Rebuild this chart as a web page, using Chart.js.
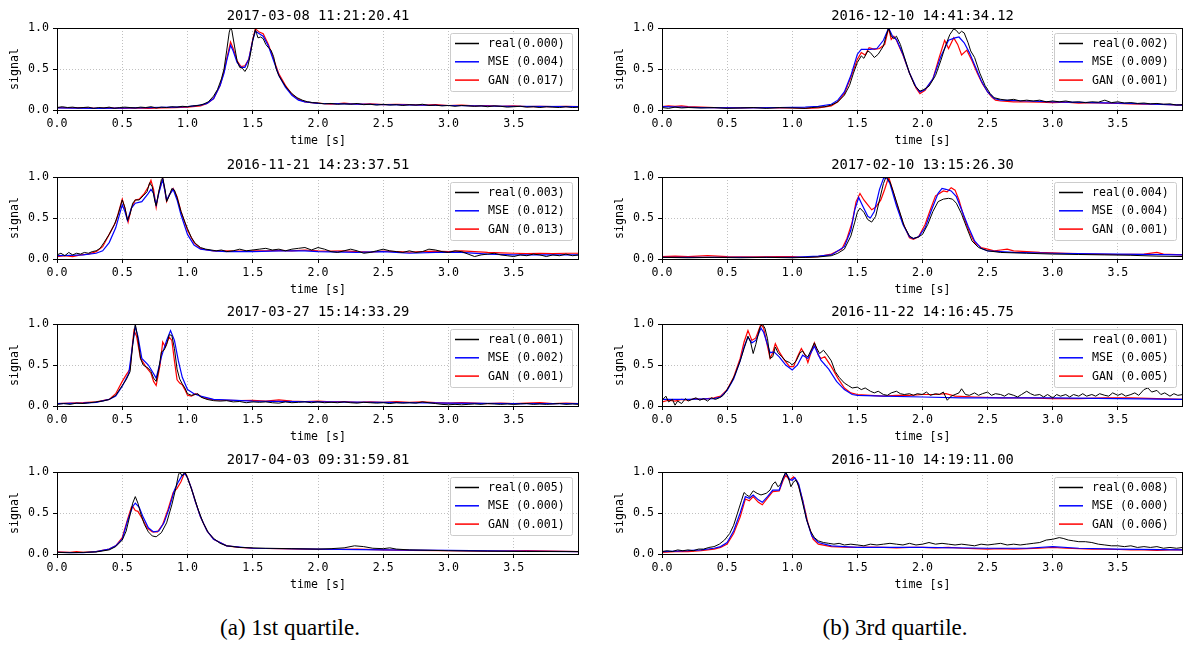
<!DOCTYPE html>
<html>
<head>
<meta charset="utf-8">
<script src="https://cdn.jsdelivr.net/npm/chart.js@4.4.1/dist/chart.umd.min.js"></script>
<style>
  body { margin: 0; background: #fff; }
  #page { position: relative; width: 1184px; height: 647px; overflow: hidden; }
  canvas { position: absolute; }
  .cap { position: absolute; top: 615px; font-family: "Liberation Serif", serif; font-size: 23px; color: #000; width: 400px; text-align: center; }
</style>
</head>
<body>
<div id="page">
  <canvas id="c1" width="590" height="150" style="left:0;top:0"></canvas>
  <canvas id="c2" width="590" height="150" style="left:0;top:149px"></canvas>
  <canvas id="c3" width="590" height="150" style="left:0;top:296px"></canvas>
  <canvas id="c4" width="590" height="150" style="left:0;top:444px"></canvas>
  <canvas id="c5" width="579" height="150" style="left:605px;top:0"></canvas>
  <canvas id="c6" width="579" height="150" style="left:605px;top:149px"></canvas>
  <canvas id="c7" width="579" height="150" style="left:605px;top:296px"></canvas>
  <canvas id="c8" width="579" height="150" style="left:605px;top:444px"></canvas>
  <div class="cap" style="left:90px">(a) 1st quartile.</div>
  <div class="cap" style="left:695px">(b) 3rd quartile.</div>
</div>
<script>
// ---------------------------- data ---------------------------------- //
// each series is a list of [time s, signal] pairs
const xTicks = [0, 0.5, 1.0, 1.5, 2.0, 2.5, 3.0, 3.5];
const yTicks = [0, 0.5, 1.0];

// 2017-03-08 11:21:20.41
const real1 = [[0,0.03],[0.04,0.04],[0.08,0.03],[0.12,0.035],[0.16,0.025],[0.2,0.03],[0.24,0.035],[0.28,0.02],[0.32,0.03],[0.36,0.025],[0.4,0.035],[0.44,0.02],[0.48,0.03],[0.52,0.035],[0.56,0.03],[0.6,0.025],[0.64,0.035],[0.68,0.03],[0.72,0.04],[0.76,0.025],[0.8,0.035],[0.84,0.03],[0.88,0.04],[0.92,0.035],[0.96,0.045],[1.0,0.04],[1.04,0.05],[1.08,0.055],[1.12,0.07],[1.16,0.1],[1.2,0.17],[1.23,0.25],[1.26,0.38],[1.28,0.5],[1.3,0.72],[1.32,0.95],[1.33,1.0],[1.34,0.97],[1.36,0.78],[1.38,0.6],[1.4,0.52],[1.42,0.51],[1.44,0.47],[1.46,0.52],[1.48,0.66],[1.5,0.85],[1.52,0.98],[1.53,0.93],[1.54,0.88],[1.56,0.89],[1.58,0.87],[1.6,0.8],[1.62,0.76],[1.64,0.73],[1.66,0.65],[1.68,0.5],[1.7,0.42],[1.73,0.34],[1.76,0.27],[1.8,0.2],[1.84,0.15],[1.88,0.12],[1.92,0.1],[1.96,0.09],[2.0,0.085],[2.05,0.075],[2.1,0.08],[2.15,0.07],[2.2,0.075],[2.25,0.07],[2.3,0.08],[2.35,0.065],[2.4,0.07],[2.45,0.06],[2.5,0.07],[2.55,0.06],[2.6,0.065],[2.65,0.055],[2.7,0.065],[2.75,0.06],[2.8,0.07],[2.85,0.055],[2.9,0.06],[2.95,0.05],[3.0,0.055],[3.05,0.045],[3.1,0.055],[3.15,0.05],[3.2,0.045],[3.25,0.05],[3.3,0.04],[3.35,0.05],[3.4,0.045],[3.45,0.035],[3.5,0.04],[3.55,0.045],[3.6,0.035],[3.65,0.04],[3.7,0.03],[3.75,0.04],[3.8,0.035],[3.85,0.03],[3.9,0.04],[3.95,0.03],[4.0,0.035]];
const mse1 = [[0,0.025],[0.3,0.02],[0.6,0.025],[0.9,0.035],[1.0,0.04],[1.1,0.06],[1.15,0.08],[1.2,0.14],[1.25,0.3],[1.28,0.45],[1.3,0.6],[1.33,0.79],[1.35,0.72],[1.38,0.58],[1.41,0.52],[1.44,0.52],[1.47,0.62],[1.5,0.85],[1.52,0.96],[1.55,0.93],[1.58,0.9],[1.62,0.78],[1.66,0.6],[1.7,0.42],[1.75,0.28],[1.8,0.18],[1.85,0.12],[1.9,0.1],[2.0,0.08],[2.5,0.065],[3.0,0.055],[3.5,0.045],[4.0,0.04]];
const gan1 = [[0,0.03],[0.1,0.025],[0.2,0.03],[0.3,0.02],[0.4,0.025],[0.5,0.02],[0.6,0.025],[0.7,0.02],[0.8,0.025],[0.9,0.03],[1.0,0.035],[1.1,0.05],[1.15,0.08],[1.2,0.14],[1.25,0.3],[1.28,0.47],[1.3,0.62],[1.33,0.83],[1.35,0.75],[1.38,0.6],[1.41,0.53],[1.44,0.54],[1.47,0.62],[1.5,0.86],[1.52,0.99],[1.55,0.95],[1.58,0.93],[1.62,0.8],[1.66,0.62],[1.7,0.44],[1.75,0.3],[1.8,0.19],[1.85,0.13],[1.9,0.1],[1.95,0.09],[2.0,0.085],[2.1,0.07],[2.2,0.085],[2.3,0.07],[2.4,0.075],[2.5,0.065],[2.6,0.07],[2.7,0.065],[2.8,0.06],[2.9,0.065],[3.0,0.055],[3.1,0.06],[3.2,0.05],[3.3,0.055],[3.4,0.045],[3.5,0.05],[3.6,0.04],[3.7,0.045],[3.8,0.04],[3.9,0.045],[4.0,0.04]];

// 2016-11-21 14:23:37.51
const real2 = [[0,0.05],[0.03,0.07],[0.06,0.04],[0.09,0.08],[0.12,0.05],[0.15,0.07],[0.18,0.06],[0.21,0.08],[0.24,0.07],[0.27,0.09],[0.3,0.1],[0.33,0.13],[0.36,0.2],[0.4,0.3],[0.44,0.42],[0.47,0.55],[0.5,0.72],[0.52,0.63],[0.54,0.47],[0.56,0.55],[0.58,0.68],[0.6,0.72],[0.63,0.72],[0.66,0.77],[0.69,0.82],[0.71,0.93],[0.73,0.88],[0.75,0.7],[0.76,0.65],[0.78,0.82],[0.8,0.97],[0.81,0.99],[0.83,0.83],[0.84,0.7],[0.86,0.77],[0.88,0.86],[0.9,0.84],[0.92,0.75],[0.95,0.58],[0.98,0.45],[1.0,0.37],[1.03,0.26],[1.06,0.19],[1.1,0.14],[1.14,0.12],[1.18,0.11],[1.22,0.1],[1.26,0.11],[1.3,0.09],[1.35,0.1],[1.4,0.12],[1.45,0.1],[1.5,0.11],[1.55,0.12],[1.6,0.13],[1.65,0.11],[1.7,0.12],[1.75,0.1],[1.8,0.12],[1.85,0.13],[1.9,0.14],[1.95,0.11],[2.0,0.14],[2.05,0.12],[2.1,0.09],[2.15,0.08],[2.2,0.1],[2.25,0.12],[2.3,0.1],[2.35,0.07],[2.4,0.08],[2.45,0.1],[2.5,0.12],[2.55,0.1],[2.6,0.09],[2.65,0.08],[2.7,0.1],[2.75,0.08],[2.8,0.09],[2.85,0.12],[2.9,0.11],[2.95,0.09],[3.0,0.08],[3.05,0.1],[3.1,0.09],[3.15,0.06],[3.2,0.03],[3.25,0.05],[3.3,0.06],[3.35,0.07],[3.4,0.05],[3.45,0.04],[3.5,0.03],[3.55,0.05],[3.6,0.04],[3.65,0.06],[3.7,0.05],[3.75,0.03],[3.8,0.05],[3.85,0.04],[3.9,0.06],[3.95,0.04],[4.0,0.05]];
const mse2 = [[0,0.04],[0.1,0.045],[0.2,0.05],[0.3,0.07],[0.35,0.1],[0.4,0.2],[0.45,0.38],[0.5,0.66],[0.52,0.58],[0.54,0.47],[0.57,0.62],[0.6,0.68],[0.65,0.7],[0.7,0.8],[0.72,0.85],[0.74,0.8],[0.76,0.66],[0.78,0.8],[0.81,0.97],[0.83,0.8],[0.84,0.72],[0.86,0.78],[0.89,0.85],[0.92,0.72],[0.95,0.54],[1.0,0.3],[1.05,0.17],[1.1,0.12],[1.2,0.1],[1.3,0.09],[1.5,0.09],[1.7,0.1],[1.9,0.1],[2.0,0.09],[2.3,0.08],[2.5,0.09],[2.7,0.07],[2.9,0.08],[3.1,0.08],[3.3,0.06],[3.5,0.05],[3.7,0.05],[4.0,0.05]];
const gan2 = [[0,0.03],[0.06,0.04],[0.12,0.03],[0.18,0.05],[0.24,0.06],[0.3,0.09],[0.35,0.15],[0.4,0.3],[0.45,0.45],[0.5,0.73],[0.52,0.62],[0.545,0.45],[0.57,0.62],[0.6,0.72],[0.63,0.73],[0.67,0.8],[0.7,0.88],[0.72,0.96],[0.74,0.85],[0.76,0.63],[0.78,0.82],[0.81,0.98],[0.83,0.8],[0.84,0.7],[0.86,0.78],[0.89,0.86],[0.92,0.76],[0.95,0.58],[1.0,0.35],[1.05,0.2],[1.1,0.13],[1.15,0.11],[1.2,0.1],[1.3,0.1],[1.4,0.095],[1.5,0.1],[1.6,0.1],[1.7,0.105],[1.8,0.1],[1.9,0.11],[2.0,0.1],[2.1,0.095],[2.2,0.1],[2.3,0.09],[2.4,0.085],[2.5,0.095],[2.6,0.09],[2.7,0.085],[2.8,0.09],[2.9,0.095],[3.0,0.09],[3.1,0.1],[3.2,0.09],[3.3,0.08],[3.4,0.075],[3.5,0.07],[3.6,0.065],[3.7,0.07],[3.8,0.065],[3.9,0.07],[4.0,0.07]];

// 2017-03-27 15:14:33.29
const real3 = [[0,0.02],[0.05,0.03],[0.1,0.02],[0.15,0.035],[0.2,0.03],[0.25,0.04],[0.3,0.05],[0.35,0.06],[0.4,0.08],[0.45,0.13],[0.5,0.25],[0.53,0.32],[0.56,0.42],[0.58,0.75],[0.6,1.0],[0.62,0.82],[0.64,0.58],[0.66,0.5],[0.7,0.46],[0.72,0.42],[0.74,0.34],[0.76,0.3],[0.78,0.45],[0.8,0.66],[0.82,0.68],[0.84,0.75],[0.86,0.87],[0.88,0.86],[0.9,0.7],[0.92,0.45],[0.94,0.33],[0.96,0.27],[0.98,0.22],[1.0,0.15],[1.03,0.13],[1.06,0.14],[1.08,0.15],[1.1,0.11],[1.15,0.08],[1.2,0.065],[1.25,0.06],[1.3,0.065],[1.35,0.05],[1.4,0.055],[1.45,0.04],[1.5,0.05],[1.55,0.045],[1.6,0.05],[1.65,0.04],[1.7,0.035],[1.75,0.05],[1.8,0.04],[1.85,0.045],[1.9,0.05],[1.95,0.04],[2.0,0.05],[2.05,0.04],[2.1,0.045],[2.15,0.04],[2.2,0.05],[2.25,0.04],[2.3,0.035],[2.35,0.045],[2.4,0.04],[2.45,0.035],[2.5,0.04],[2.55,0.03],[2.6,0.04],[2.65,0.035],[2.7,0.04],[2.75,0.035],[2.8,0.05],[2.85,0.04],[2.9,0.03],[2.95,0.02],[3.0,0.015],[3.05,0.02],[3.1,0.015],[3.15,0.02],[3.2,0.025],[3.25,0.02],[3.3,0.03],[3.35,0.025],[3.4,0.02],[3.45,0.025],[3.5,0.02],[3.55,0.025],[3.6,0.03],[3.65,0.02],[3.7,0.025],[3.75,0.02],[3.8,0.025],[3.85,0.03],[3.9,0.02],[3.95,0.025],[4.0,0.02]];
const mse3 = [[0,0.03],[0.2,0.035],[0.3,0.045],[0.4,0.08],[0.45,0.12],[0.5,0.24],[0.55,0.4],[0.58,0.75],[0.6,0.97],[0.62,0.85],[0.65,0.58],[0.7,0.5],[0.73,0.42],[0.76,0.34],[0.8,0.6],[0.84,0.8],[0.87,0.92],[0.9,0.8],[0.93,0.55],[0.96,0.35],[1.0,0.2],[1.05,0.15],[1.1,0.12],[1.2,0.08],[1.5,0.06],[2.0,0.05],[2.5,0.045],[3.0,0.035],[3.5,0.03],[4.0,0.03]];
const gan3 = [[0,0.03],[0.1,0.035],[0.2,0.04],[0.3,0.05],[0.4,0.08],[0.45,0.15],[0.5,0.3],[0.53,0.38],[0.56,0.45],[0.58,0.78],[0.59,0.92],[0.61,0.85],[0.64,0.58],[0.68,0.48],[0.72,0.4],[0.74,0.3],[0.76,0.25],[0.79,0.5],[0.81,0.78],[0.83,0.72],[0.86,0.84],[0.88,0.8],[0.9,0.55],[0.92,0.32],[0.94,0.28],[0.96,0.26],[0.98,0.2],[1.0,0.13],[1.03,0.12],[1.06,0.15],[1.08,0.14],[1.12,0.1],[1.2,0.075],[1.3,0.07],[1.4,0.065],[1.5,0.07],[1.6,0.06],[1.7,0.075],[1.8,0.06],[1.9,0.055],[2.0,0.06],[2.1,0.05],[2.2,0.055],[2.3,0.045],[2.4,0.05],[2.5,0.045],[2.6,0.055],[2.7,0.045],[2.8,0.05],[2.9,0.04],[3.0,0.035],[3.1,0.04],[3.2,0.035],[3.3,0.03],[3.4,0.035],[3.5,0.03],[3.6,0.035],[3.7,0.04],[3.8,0.03],[3.9,0.035],[4.0,0.03]];

// 2017-04-03 09:31:59.81
const real4 = [[0,0.02],[0.1,0.015],[0.2,0.02],[0.3,0.025],[0.4,0.05],[0.45,0.09],[0.5,0.17],[0.53,0.28],[0.56,0.48],[0.58,0.62],[0.6,0.7],[0.62,0.62],[0.64,0.5],[0.67,0.36],[0.7,0.27],[0.73,0.22],[0.76,0.21],[0.8,0.26],[0.84,0.38],[0.88,0.6],[0.91,0.8],[0.93,0.96],[0.94,1.0],[0.96,0.95],[0.98,1.0],[1.0,0.93],[1.02,0.84],[1.05,0.7],[1.08,0.55],[1.12,0.38],[1.16,0.26],[1.2,0.19],[1.25,0.13],[1.3,0.1],[1.4,0.08],[1.5,0.075],[1.6,0.07],[1.8,0.065],[2.0,0.06],[2.1,0.065],[2.2,0.075],[2.28,0.1],[2.35,0.09],[2.42,0.07],[2.5,0.065],[2.55,0.075],[2.6,0.06],[2.7,0.05],[3.0,0.04],[3.3,0.035],[3.6,0.03],[4.0,0.03]];
const mse4 = [[0,0.02],[0.2,0.015],[0.3,0.03],[0.4,0.06],[0.45,0.1],[0.5,0.18],[0.54,0.4],[0.58,0.58],[0.6,0.62],[0.63,0.57],[0.66,0.45],[0.7,0.32],[0.74,0.27],[0.78,0.28],[0.82,0.38],[0.86,0.56],[0.9,0.78],[0.93,0.88],[0.96,0.96],[0.98,0.98],[1.0,0.93],[1.03,0.8],[1.06,0.64],[1.1,0.45],[1.15,0.28],[1.2,0.18],[1.3,0.1],[1.5,0.07],[2.0,0.06],[2.5,0.05],[3.0,0.045],[3.5,0.035],[4.0,0.03]];
const gan4 = [[0,0.025],[0.1,0.02],[0.15,0.03],[0.2,0.02],[0.3,0.03],[0.4,0.06],[0.45,0.1],[0.5,0.2],[0.54,0.42],[0.57,0.57],[0.58,0.58],[0.6,0.53],[0.62,0.52],[0.65,0.44],[0.69,0.32],[0.73,0.27],[0.77,0.27],[0.81,0.36],[0.85,0.54],[0.89,0.75],[0.92,0.8],[0.95,0.88],[0.98,1.0],[1.0,0.93],[1.03,0.8],[1.06,0.64],[1.1,0.45],[1.15,0.28],[1.2,0.18],[1.3,0.1],[1.4,0.08],[1.5,0.07],[1.7,0.065],[1.9,0.06],[2.1,0.055],[2.3,0.06],[2.5,0.05],[2.7,0.045],[3.0,0.04],[3.3,0.035],[3.6,0.04],[4.0,0.03]];

// 2016-12-10 14:41:34.12
const real5 = [[0,0.03],[0.05,0.02],[0.1,0.035],[0.15,0.025],[0.2,0.03],[0.3,0.025],[0.4,0.03],[0.5,0.02],[0.6,0.025],[0.7,0.03],[0.8,0.02],[0.9,0.03],[1.0,0.025],[1.1,0.02],[1.15,0.03],[1.2,0.035],[1.25,0.04],[1.3,0.06],[1.35,0.1],[1.4,0.18],[1.44,0.3],[1.47,0.45],[1.5,0.58],[1.53,0.66],[1.55,0.63],[1.58,0.72],[1.6,0.7],[1.63,0.64],[1.66,0.68],[1.7,0.78],[1.72,0.9],[1.74,1.0],[1.76,0.9],[1.78,0.87],[1.8,0.9],[1.83,0.8],[1.86,0.65],[1.9,0.45],[1.94,0.3],[1.98,0.23],[2.01,0.25],[2.05,0.29],[2.1,0.42],[2.14,0.6],[2.18,0.8],[2.21,0.92],[2.24,0.99],[2.26,0.97],[2.28,0.93],[2.3,0.96],[2.32,0.94],[2.35,0.82],[2.37,0.72],[2.4,0.64],[2.44,0.45],[2.48,0.3],[2.52,0.2],[2.55,0.15],[2.6,0.13],[2.65,0.12],[2.7,0.13],[2.75,0.11],[2.8,0.12],[2.85,0.11],[2.9,0.12],[2.95,0.1],[3.0,0.11],[3.05,0.1],[3.1,0.11],[3.15,0.095],[3.2,0.1],[3.25,0.09],[3.3,0.1],[3.35,0.095],[3.4,0.12],[3.45,0.09],[3.5,0.1],[3.55,0.085],[3.6,0.09],[3.65,0.08],[3.7,0.085],[3.75,0.075],[3.8,0.08],[3.85,0.07],[3.9,0.075],[3.95,0.06],[4.0,0.065]];
const mse5 = [[0,0.04],[0.3,0.03],[0.6,0.025],[0.9,0.03],[1.1,0.035],[1.2,0.045],[1.3,0.07],[1.35,0.12],[1.4,0.22],[1.45,0.42],[1.5,0.68],[1.53,0.74],[1.6,0.74],[1.65,0.75],[1.7,0.85],[1.74,1.0],[1.77,0.9],[1.8,0.86],[1.85,0.68],[1.9,0.45],[1.95,0.28],[1.98,0.22],[2.02,0.25],[2.08,0.38],[2.14,0.65],[2.2,0.85],[2.25,0.88],[2.28,0.89],[2.32,0.82],[2.36,0.7],[2.4,0.55],[2.45,0.36],[2.5,0.22],[2.55,0.14],[2.6,0.12],[2.8,0.11],[3.0,0.1],[3.3,0.09],[3.6,0.08],[4.0,0.06]];
const gan5 = [[0,0.04],[0.05,0.05],[0.1,0.045],[0.15,0.05],[0.2,0.04],[0.3,0.035],[0.4,0.03],[0.5,0.03],[0.6,0.025],[0.7,0.03],[0.8,0.03],[0.9,0.025],[1.0,0.025],[1.1,0.02],[1.2,0.025],[1.3,0.05],[1.35,0.1],[1.4,0.2],[1.45,0.4],[1.5,0.62],[1.53,0.7],[1.56,0.67],[1.59,0.76],[1.63,0.74],[1.67,0.75],[1.71,0.8],[1.74,1.0],[1.76,0.86],[1.78,0.9],[1.8,0.85],[1.85,0.67],[1.9,0.45],[1.95,0.27],[1.98,0.2],[2.02,0.24],[2.08,0.38],[2.13,0.65],[2.17,0.85],[2.2,0.75],[2.24,0.88],[2.27,0.8],[2.3,0.67],[2.34,0.73],[2.38,0.6],[2.42,0.45],[2.46,0.32],[2.5,0.22],[2.53,0.16],[2.56,0.12],[2.6,0.11],[2.7,0.1],[2.8,0.1],[2.9,0.095],[3.0,0.09],[3.1,0.095],[3.2,0.085],[3.3,0.09],[3.4,0.085],[3.5,0.08],[3.6,0.075],[3.7,0.07],[3.8,0.07],[3.9,0.065],[4.0,0.06]];

// 2017-02-10 13:15:26.30
const real6 = [[0,0.02],[0.2,0.015],[0.4,0.02],[0.6,0.015],[0.8,0.02],[1.0,0.015],[1.1,0.02],[1.2,0.025],[1.3,0.04],[1.35,0.07],[1.4,0.12],[1.45,0.28],[1.48,0.45],[1.5,0.57],[1.52,0.62],[1.55,0.57],[1.58,0.48],[1.61,0.45],[1.64,0.52],[1.67,0.72],[1.7,0.92],[1.72,1.0],[1.75,0.94],[1.78,0.8],[1.82,0.6],[1.86,0.4],[1.9,0.28],[1.93,0.25],[1.97,0.27],[2.0,0.3],[2.04,0.42],[2.08,0.58],[2.12,0.7],[2.16,0.73],[2.2,0.74],[2.23,0.73],[2.26,0.68],[2.3,0.55],[2.34,0.38],[2.38,0.22],[2.43,0.14],[2.5,0.1],[2.6,0.08],[2.8,0.07],[3.0,0.06],[3.2,0.055],[3.4,0.05],[3.6,0.045],[3.8,0.035],[4.0,0.03]];
const mse6 = [[0,0.02],[0.5,0.02],[1.0,0.02],[1.2,0.035],[1.3,0.05],[1.4,0.15],[1.45,0.35],[1.48,0.6],[1.51,0.75],[1.54,0.65],[1.58,0.52],[1.6,0.5],[1.63,0.58],[1.67,0.85],[1.7,0.98],[1.72,1.0],[1.75,0.92],[1.8,0.65],[1.85,0.42],[1.9,0.27],[1.93,0.25],[1.97,0.27],[2.02,0.38],[2.07,0.6],[2.12,0.8],[2.15,0.86],[2.18,0.85],[2.22,0.83],[2.26,0.76],[2.3,0.6],[2.35,0.4],[2.4,0.22],[2.45,0.13],[2.5,0.1],[2.7,0.08],[3.0,0.07],[3.5,0.06],[4.0,0.05]];
const gan6 = [[0,0.03],[0.1,0.035],[0.2,0.03],[0.35,0.04],[0.5,0.03],[0.7,0.025],[0.9,0.03],[1.0,0.03],[1.1,0.02],[1.2,0.03],[1.3,0.06],[1.38,0.12],[1.42,0.25],[1.46,0.45],[1.49,0.7],[1.52,0.8],[1.55,0.72],[1.58,0.66],[1.61,0.6],[1.64,0.63],[1.68,0.72],[1.71,0.85],[1.74,1.0],[1.77,0.85],[1.8,0.68],[1.85,0.44],[1.9,0.26],[1.93,0.24],[1.97,0.27],[2.02,0.42],[2.06,0.6],[2.1,0.77],[2.13,0.8],[2.16,0.83],[2.19,0.82],[2.22,0.87],[2.25,0.84],[2.28,0.72],[2.32,0.5],[2.36,0.33],[2.4,0.2],[2.45,0.14],[2.5,0.12],[2.55,0.1],[2.6,0.11],[2.65,0.12],[2.7,0.1],[2.8,0.09],[2.9,0.08],[3.0,0.075],[3.1,0.07],[3.2,0.065],[3.3,0.06],[3.5,0.055],[3.7,0.06],[3.8,0.08],[3.85,0.06],[4.0,0.05]];

// 2016-11-22 14:16:45.75
const real7 = [[0,0.07],[0.03,0.12],[0.05,0.05],[0.08,0.08],[0.1,0.01],[0.12,0.06],[0.15,0.03],[0.18,0.09],[0.2,0.06],[0.23,0.08],[0.26,0.1],[0.29,0.07],[0.32,0.09],[0.35,0.06],[0.38,0.1],[0.41,0.08],[0.44,0.1],[0.47,0.13],[0.5,0.2],[0.53,0.28],[0.56,0.38],[0.6,0.55],[0.63,0.7],[0.66,0.85],[0.68,0.78],[0.7,0.64],[0.72,0.75],[0.75,0.95],[0.77,1.0],[0.79,0.95],[0.81,0.82],[0.83,0.58],[0.85,0.6],[0.87,0.72],[0.89,0.65],[0.92,0.6],[0.95,0.55],[0.98,0.53],[1.0,0.5],[1.03,0.55],[1.06,0.65],[1.08,0.67],[1.1,0.62],[1.12,0.6],[1.15,0.7],[1.17,0.77],[1.19,0.7],[1.21,0.64],[1.24,0.68],[1.27,0.62],[1.3,0.55],[1.33,0.42],[1.36,0.35],[1.4,0.28],[1.43,0.25],[1.46,0.22],[1.5,0.23],[1.53,0.2],[1.56,0.22],[1.6,0.18],[1.63,0.16],[1.66,0.18],[1.7,0.14],[1.73,0.13],[1.76,0.16],[1.8,0.18],[1.83,0.15],[1.86,0.14],[1.9,0.15],[1.93,0.13],[1.96,0.15],[2.0,0.14],[2.03,0.17],[2.06,0.13],[2.1,0.15],[2.13,0.14],[2.16,0.17],[2.19,0.07],[2.22,0.12],[2.25,0.14],[2.28,0.16],[2.3,0.21],[2.33,0.14],[2.36,0.13],[2.4,0.16],[2.43,0.13],[2.46,0.15],[2.5,0.17],[2.53,0.13],[2.56,0.15],[2.6,0.14],[2.63,0.12],[2.66,0.15],[2.7,0.13],[2.73,0.11],[2.76,0.14],[2.8,0.18],[2.83,0.15],[2.86,0.13],[2.9,0.14],[2.93,0.11],[2.96,0.14],[3.0,0.1],[3.03,0.14],[3.06,0.12],[3.1,0.14],[3.13,0.11],[3.16,0.14],[3.2,0.12],[3.23,0.15],[3.26,0.12],[3.3,0.14],[3.33,0.12],[3.36,0.15],[3.4,0.13],[3.43,0.12],[3.46,0.16],[3.5,0.13],[3.53,0.15],[3.56,0.12],[3.6,0.14],[3.63,0.16],[3.66,0.13],[3.7,0.2],[3.73,0.22],[3.76,0.17],[3.8,0.19],[3.83,0.14],[3.86,0.16],[3.9,0.12],[3.93,0.15],[3.96,0.13],[4.0,0.14]];
const mse7 = [[0,0.08],[0.2,0.08],[0.4,0.09],[0.45,0.11],[0.5,0.19],[0.55,0.33],[0.6,0.55],[0.63,0.72],[0.66,0.84],[0.69,0.77],[0.72,0.8],[0.76,0.95],[0.78,0.9],[0.81,0.75],[0.83,0.65],[0.86,0.66],[0.9,0.6],[0.95,0.5],[1.0,0.44],[1.04,0.5],[1.08,0.62],[1.12,0.58],[1.17,0.73],[1.22,0.56],[1.28,0.45],[1.34,0.3],[1.4,0.2],[1.46,0.14],[1.5,0.13],[1.7,0.12],[2.0,0.11],[2.3,0.1],[2.6,0.1],[3.0,0.1],[3.5,0.09],[4.0,0.08]];
const gan7 = [[0,0.05],[0.05,0.07],[0.1,0.06],[0.15,0.08],[0.2,0.07],[0.25,0.09],[0.3,0.08],[0.35,0.09],[0.4,0.1],[0.45,0.12],[0.5,0.2],[0.55,0.35],[0.6,0.58],[0.63,0.78],[0.66,0.92],[0.69,0.8],[0.72,0.83],[0.76,1.0],[0.78,0.95],[0.8,0.8],[0.83,0.58],[0.85,0.65],[0.87,0.76],[0.9,0.66],[0.94,0.56],[0.98,0.48],[1.01,0.48],[1.04,0.6],[1.07,0.7],[1.1,0.62],[1.12,0.53],[1.15,0.68],[1.17,0.77],[1.2,0.62],[1.22,0.58],[1.25,0.6],[1.3,0.48],[1.35,0.34],[1.4,0.22],[1.45,0.16],[1.5,0.14],[1.6,0.13],[1.7,0.12],[1.8,0.13],[1.9,0.13],[2.0,0.14],[2.1,0.14],[2.18,0.15],[2.25,0.12],[2.4,0.11],[2.6,0.1],[2.8,0.1],[3.0,0.09],[3.2,0.09],[3.4,0.1],[3.6,0.1],[3.8,0.09],[4.0,0.08]];

// 2016-11-10 14:19:11.00
const real8 = [[0,0.03],[0.04,0.04],[0.08,0.03],[0.12,0.05],[0.16,0.04],[0.2,0.05],[0.24,0.04],[0.28,0.06],[0.32,0.06],[0.36,0.08],[0.4,0.09],[0.44,0.12],[0.48,0.17],[0.52,0.25],[0.55,0.35],[0.58,0.5],[0.61,0.65],[0.63,0.75],[0.65,0.72],[0.67,0.7],[0.7,0.77],[0.73,0.74],[0.76,0.72],[0.8,0.74],[0.83,0.78],[0.85,0.85],[0.87,0.88],[0.89,0.82],[0.91,0.85],[0.93,0.93],[0.95,1.0],[0.97,0.93],[0.99,0.82],[1.01,0.88],[1.03,0.9],[1.05,0.82],[1.08,0.62],[1.11,0.42],[1.14,0.28],[1.17,0.2],[1.2,0.16],[1.24,0.14],[1.28,0.13],[1.32,0.12],[1.36,0.13],[1.4,0.11],[1.45,0.12],[1.5,0.11],[1.55,0.1],[1.6,0.12],[1.65,0.11],[1.7,0.12],[1.75,0.13],[1.8,0.12],[1.85,0.11],[1.9,0.13],[1.95,0.11],[2.0,0.12],[2.05,0.14],[2.1,0.12],[2.15,0.13],[2.2,0.12],[2.25,0.11],[2.3,0.12],[2.35,0.11],[2.4,0.1],[2.45,0.12],[2.5,0.11],[2.55,0.12],[2.6,0.13],[2.65,0.11],[2.7,0.12],[2.75,0.11],[2.8,0.12],[2.85,0.13],[2.9,0.14],[2.95,0.17],[3.0,0.18],[3.05,0.2],[3.08,0.19],[3.12,0.17],[3.16,0.16],[3.2,0.15],[3.25,0.15],[3.3,0.14],[3.35,0.12],[3.4,0.11],[3.45,0.1],[3.5,0.1],[3.55,0.09],[3.6,0.1],[3.65,0.08],[3.7,0.09],[3.75,0.08],[3.8,0.09],[3.85,0.07],[3.9,0.08],[3.95,0.07],[4.0,0.08]];
const mse8 = [[0,0.03],[0.2,0.04],[0.3,0.05],[0.4,0.07],[0.45,0.09],[0.5,0.14],[0.55,0.28],[0.6,0.5],[0.64,0.7],[0.67,0.68],[0.7,0.72],[0.74,0.66],[0.77,0.63],[0.81,0.7],[0.85,0.78],[0.9,0.78],[0.93,0.92],[0.95,0.99],[0.98,0.91],[1.0,0.9],[1.02,0.93],[1.05,0.85],[1.08,0.65],[1.11,0.42],[1.15,0.22],[1.2,0.14],[1.3,0.1],[1.5,0.08],[2.0,0.08],[2.5,0.07],[2.8,0.07],[3.0,0.09],[3.2,0.07],[3.5,0.06],[4.0,0.05]];
const gan8 = [[0,0.02],[0.1,0.03],[0.2,0.03],[0.3,0.04],[0.4,0.06],[0.45,0.08],[0.5,0.12],[0.55,0.25],[0.6,0.45],[0.64,0.67],[0.67,0.65],[0.7,0.7],[0.74,0.63],[0.77,0.6],[0.81,0.68],[0.85,0.76],[0.9,0.77],[0.93,0.9],[0.95,0.96],[0.98,0.9],[1.01,0.94],[1.04,0.88],[1.08,0.66],[1.12,0.38],[1.16,0.18],[1.2,0.12],[1.3,0.09],[1.4,0.085],[1.5,0.08],[1.6,0.085],[1.7,0.08],[1.8,0.075],[1.9,0.08],[2.0,0.08],[2.1,0.075],[2.2,0.08],[2.3,0.07],[2.4,0.065],[2.5,0.06],[2.6,0.065],[2.7,0.06],[2.8,0.065],[2.9,0.07],[3.0,0.08],[3.1,0.07],[3.2,0.065],[3.3,0.06],[3.4,0.06],[3.5,0.055],[3.6,0.05],[3.7,0.05],[3.8,0.045],[3.9,0.05],[4.0,0.05]];

// legend scores: real, MSE, GAN
const scores = [
  ['0.000', '0.004', '0.017'],
  ['0.003', '0.012', '0.013'],
  ['0.001', '0.002', '0.001'],
  ['0.005', '0.000', '0.001'],
  ['0.002', '0.009', '0.001'],
  ['0.004', '0.004', '0.001'],
  ['0.001', '0.005', '0.005'],
  ['0.008', '0.000', '0.006']
];
const titles = [
  '2017-03-08 11:21:20.41', '2016-11-21 14:23:37.51', '2017-03-27 15:14:33.29', '2017-04-03 09:31:59.81',
  '2016-12-10 14:41:34.12', '2017-02-10 13:15:26.30', '2016-11-22 14:16:45.75', '2016-11-10 14:19:11.00'
];

// --------------------------- drawing --------------------------------- //
const MONO = '"DejaVu Sans Mono", monospace';
const pts = arr => arr.map(([x, y]) => ({x, y}));

// frame, title and in-axes legend, drawn after the lines
const panelDecor = {
  id: 'panelDecor',
  afterDraw(chart) {
    const {ctx, chartArea: a} = chart;
    const o = chart.options.plugins.panelDecor;
    ctx.save();
    ctx.strokeStyle = '#000';
    ctx.lineWidth = 1;
    ctx.strokeRect(a.left + 0.5, a.top + 0.5, a.right - a.left - 1, a.bottom - a.top);

    ctx.fillStyle = '#000';
    ctx.font = '13.8px ' + MONO;
    ctx.textAlign = 'center';
    ctx.textBaseline = 'middle';
    ctx.fillText(o.title, (a.left + a.right) / 2, a.top - 12);

    const bw = 122, bh = 58;
    const bx = a.right - 7 - bw, by = a.top + 5;
    ctx.beginPath();
    ctx.roundRect(bx + 0.5, by + 0.5, bw, bh, 2);
    ctx.fillStyle = 'rgba(255,255,255,0.8)';
    ctx.fill();
    ctx.strokeStyle = '#cccccc';
    ctx.stroke();

    ctx.font = '11.6px ' + MONO;
    ctx.textAlign = 'left';
    chart.data.datasets.forEach((ds, i) => {
      const y = by + 10.5 + i * 18.3;
      ctx.strokeStyle = ds.borderColor;
      ctx.lineWidth = 1.5;
      ctx.beginPath();
      ctx.moveTo(bx + 5, y);
      ctx.lineTo(bx + 29, y);
      ctx.stroke();
      ctx.fillStyle = '#000';
      ctx.fillText(ds.label, bx + 38, y + 0.5);
    });
    ctx.restore();
  }
};

function makePanel(id, idx, real, mse, gan, rightPad) {
  const s = scores[idx];
  return new Chart(document.getElementById(id), {
    type: 'line',
    data: {
      datasets: [
        { label: 'real(' + s[0] + ')', data: pts(real), borderColor: '#000000', borderWidth: 1 },
        { label: 'MSE (' + s[1] + ')', data: pts(mse), borderColor: '#0000ff', borderWidth: 1.2 },
        { label: 'GAN (' + s[2] + ')', data: pts(gan), borderColor: '#ff0000', borderWidth: 1.2 }
      ]
    },
    options: {
      responsive: false,
      animation: false,
      devicePixelRatio: 1,
      events: [],
      elements: { point: { radius: 0 }, line: { tension: 0 } },
      layout: { padding: { top: 28, right: rightPad, left: 0, bottom: 0 } },
      plugins: {
        legend: { display: false },
        tooltip: { enabled: false },
        panelDecor: { title: titles[idx] }
      },
      scales: {
        x: {
          type: 'linear',
          min: 0,
          max: 4.0,
          afterBuildTicks: sc => { sc.ticks = xTicks.map(v => ({value: v})); },
          afterFit: sc => { sc.height = 40; },
          ticks: {
            color: '#000',
            font: { family: MONO, size: 11.6 },
            padding: 3,
            maxRotation: 0,
            callback: v => v.toFixed(1)
          },
          grid: { color: '#b0b0b0', lineWidth: 0.8, tickColor: '#000', tickLength: 4, tickWidth: 1 },
          border: { display: false, dash: [1, 2] },
          title: { display: true, text: 'time [s]', color: '#000', font: { family: MONO, size: 11.6 }, padding: { top: 0, bottom: 2 } }
        },
        y: {
          min: 0,
          max: 1,
          afterBuildTicks: sc => { sc.ticks = yTicks.map(v => ({value: v})); },
          afterFit: sc => { sc.width = 57; },
          ticks: {
            color: '#000',
            font: { family: MONO, size: 11.6 },
            padding: 4,
            callback: v => v.toFixed(1)
          },
          grid: { color: '#b0b0b0', lineWidth: 0.8, tickColor: '#000', tickLength: 4, tickWidth: 1 },
          border: { display: false, dash: [1, 2] },
          title: { display: true, text: 'signal', color: '#000', font: { family: MONO, size: 11.6 }, padding: { top: 8, bottom: 0 } }
        }
      }
    },
    plugins: [panelDecor]
  });
}

makePanel('c1', 0, real1, mse1, gan1, 11);
makePanel('c2', 1, real2, mse2, gan2, 11);
makePanel('c3', 2, real3, mse3, gan3, 11);
makePanel('c4', 3, real4, mse4, gan4, 11);
makePanel('c5', 4, real5, mse5, gan5, 1);
makePanel('c6', 5, real6, mse6, gan6, 1);
makePanel('c7', 6, real7, mse7, gan7, 1);
makePanel('c8', 7, real8, mse8, gan8, 1);
</script>
</body>
</html>
